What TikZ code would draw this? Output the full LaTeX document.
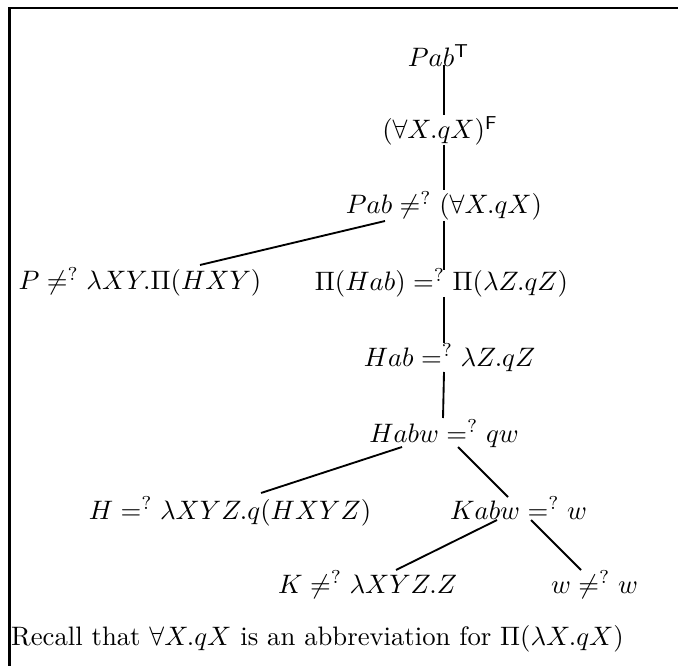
\documentclass[tikz,border=0pt]{standalone}
\usepackage{amsmath,amssymb}
\usetikzlibrary{calc}
\begin{document}
\begin{tikzpicture}[x=0.3747pt,y=-0.3747pt,
  lbl/.style={inner sep=0pt,anchor=base},
  edge/.style={line width=0.7pt},
  frame/.style={line width=1.1pt}]
\useasboundingbox (0,0) rectangle (678,666);
\coordinate (fa) at (9.5,666);
\coordinate (fb) at (9.5,8);
\coordinate (fc) at (678,8);
\draw[frame] (fa) -- (fb) -- (fc);
\node[lbl] (n1) at (438.5,67) {$Pab^{\mathsf{T}}$};
\node[lbl] (n2) at (440,139) {$(\forall X.qX)^{\mathsf{F}}$};
\node[lbl] (n3) at (444,214) {$Pab \neq^{?} (\forall X.qX)$};
\node[lbl] (n4) at (140,290) {$P \neq^{?} \lambda XY.\Pi(HXY)$};
\node[lbl] (n5) at (441.5,291) {$\Pi(Hab) =^{?} \Pi(\lambda Z.qZ)$};
\node[lbl] (n6) at (449.5,366) {$Hab =^{?} \lambda Z.qZ$};
\node[lbl] (n7) at (444,442) {$Habw =^{?} qw$};
\node[lbl] (n8) at (230,519) {$H =^{?} \lambda XYZ.q(HXYZ)$};
\node[lbl] (n9) at (518.5,519) {$Kabw =^{?} w$};
\node[lbl] (n10) at (367.5,593) {$K \neq^{?} \lambda XYZ.Z$};
\node[lbl] (n11) at (594.5,593) {$w \neq^{?} w$};
\node[lbl] (n12) at (317.5,645) {Recall that $\forall X.qX$ is an abbreviation for $\Pi(\lambda X.qX)$};
\draw[edge] ($(n1.base)+(5.5,-2)$) -- ($(n2.base)+(4,-24)$);
\draw[edge] ($(n2.base)+(4,6)$) -- ($(n3.base)+(0,-24)$);
\draw[edge] ($(n3.base)+(0,7)$) -- ($(n5.base)+(2.5,-21)$);
\draw[edge] ($(n3.base)+(-59,7)$) -- ($(n4.base)+(60,-25)$);
\draw[edge] ($(n5.base)+(2.5,6)$) -- ($(n6.base)+(-5.5,-23)$);
\draw[edge] ($(n6.base)+(-5.5,6)$) -- ($(n7.base)+(-1,-24)$);
\draw[edge] ($(n7.base)+(-42,5)$) -- ($(n8.base)+(31,-26)$);
\draw[edge] ($(n7.base)+(14,5)$) -- ($(n9.base)+(-10.5,-22)$);
\draw[edge] ($(n9.base)+(-21.5,1)$) -- ($(n10.base)+(28.5,-23)$);
\draw[edge] ($(n9.base)+(12.5,1)$) -- ($(n11.base)+(-13.5,-23)$);
\end{tikzpicture}
\end{document}
